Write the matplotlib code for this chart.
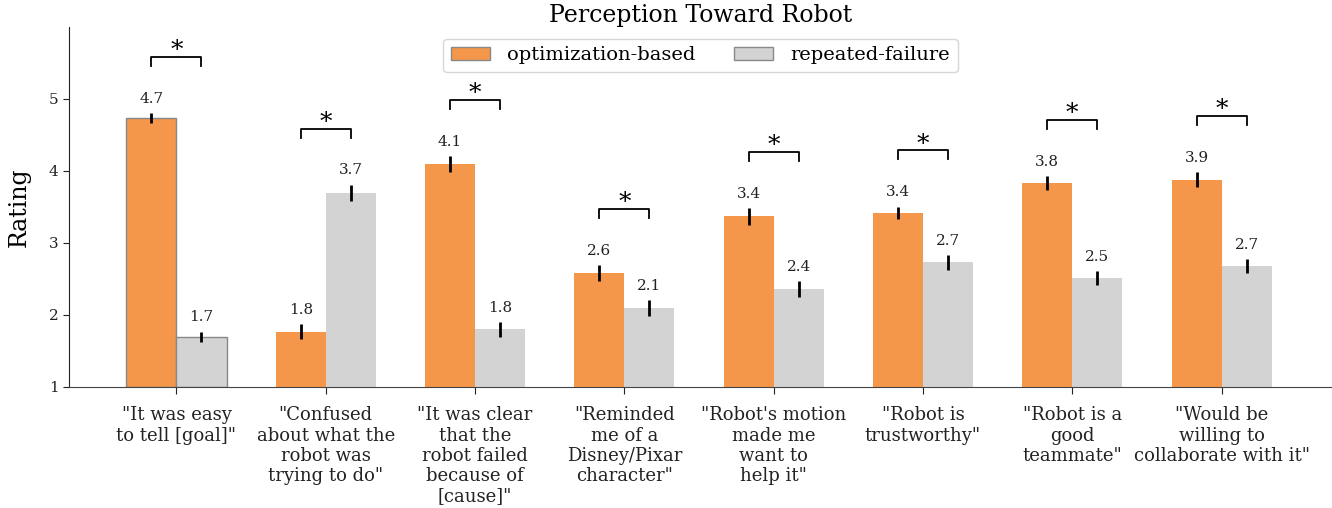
import matplotlib
matplotlib.use("Agg")
import matplotlib.pyplot as plt
import numpy as np

plt.rcParams['font.family'] = ['DejaVu Serif']

categories = [
    '"It was easy\nto tell [goal]"',
    '"Confused\nabout what the\nrobot was\ntrying to do"',
    '"It was clear\nthat the\nrobot failed\nbecause of\n[cause]"',
    '"Reminded\nme of a\nDisney/Pixar\ncharacter"',
    '"Robot\'s motion\nmade me\nwant to\nhelp it"',
    '"Robot is\ntrustworthy"',
    '"Robot is a\ngood\nteammate"',
    '"Would be\nwilling to\ncollaborate with it"',
]
series_names = ["optimization-based", "repeated-failure"]
opt_values = [4.73, 1.77, 4.10, 2.58, 3.37, 3.42, 3.83, 3.88]
opt_errors = [0.07, 0.10, 0.11, 0.11, 0.12, 0.085, 0.10, 0.10]
rf_values = [1.70, 3.70, 1.80, 2.10, 2.36, 2.73, 2.51, 2.68]
rf_errors = [0.07, 0.11, 0.10, 0.11, 0.11, 0.10, 0.10, 0.095]
significant = [True] * 8
yticks = [1, 2, 3, 4, 5]

orange = "#F5974A"
gray = "#D3D3D3"

fig = plt.figure(figsize=(13.32, 5.08), dpi=100)
ax = fig.add_axes([69/1332, 1 - 387/508, 1 - 69/1332, (387-27)/508])

x = np.arange(len(categories))
w = 0.335
b1 = ax.bar(x - w/2, np.array(opt_values) - 1, w, bottom=1, color=orange, label=series_names[0],
            edgecolor="none", zorder=2)
b2 = ax.bar(x + w/2, np.array(rf_values) - 1, w, bottom=1, color=gray, label=series_names[1],
            edgecolor="none", zorder=2)
b1[0].set_edgecolor("#888888"); b1[0].set_linewidth(1)
b2[0].set_edgecolor("#888888"); b2[0].set_linewidth(1)

ax.errorbar(x - w/2, opt_values, yerr=opt_errors, fmt="none", ecolor="black", elinewidth=2, capsize=0, zorder=3)
ax.errorbar(x + w/2, rf_values, yerr=rf_errors, fmt="none", ecolor="black", elinewidth=2, capsize=0, zorder=3)

for xi, v, e in zip(x - w/2, opt_values, opt_errors):
    ax.text(xi, v + e + 0.1, f"{v:.1f}", ha="center", va="bottom", fontsize=11, color="#222222")
for xi, v, e in zip(x + w/2, rf_values, rf_errors):
    ax.text(xi, v + e + 0.1, f"{v:.1f}", ha="center", va="bottom", fontsize=11, color="#222222")

for i, sig in enumerate(significant):
    if not sig:
        continue
    top = max(opt_values[i] + opt_errors[i], rf_values[i] + rf_errors[i])
    yb = top + 0.78
    x0, x1 = x[i] - w/2, x[i] + w/2
    ax.plot([x0, x0, x1, x1], [yb - 0.125, yb, yb, yb - 0.125], color="black", lw=1.3, zorder=3)
    ax.text(x[i], yb + 0.09, "*", ha="center", va="center", fontsize=18)

ax.set_xlim(-0.72, 7.74)
ax.set_ylim(1, 6)
ax.set_yticks(yticks)
ax.set_xticks(x)
ax.set_xticklabels(categories, fontsize=13, linespacing=1.15)
ax.tick_params(axis="y", labelsize=11, length=4, colors="#222222")
ax.tick_params(axis="x", length=5, pad=9, colors="#222222")
ax.spines["top"].set_visible(False)
ax.spines["right"].set_visible(False)
ax.spines["left"].set_color("#222222")
ax.spines["bottom"].set_color("#444444")
ax.set_ylabel("Rating", fontsize=17, labelpad=13)
ax.set_title("Perception Toward Robot", fontsize=17, pad=-2)

leg = ax.legend(loc="upper center", ncol=2, fontsize=14, frameon=True, fancybox=True,
                borderaxespad=0.6, columnspacing=2.0, handlelength=2.0, handleheight=0.7,
                handletextpad=0.9, borderpad=0.4)
leg.get_frame().set_edgecolor("#cccccc")
for h in leg.legend_handles:
    h.set_edgecolor("#888888")
    h.set_linewidth(1)

fig.savefig("out.png", dpi=100)
